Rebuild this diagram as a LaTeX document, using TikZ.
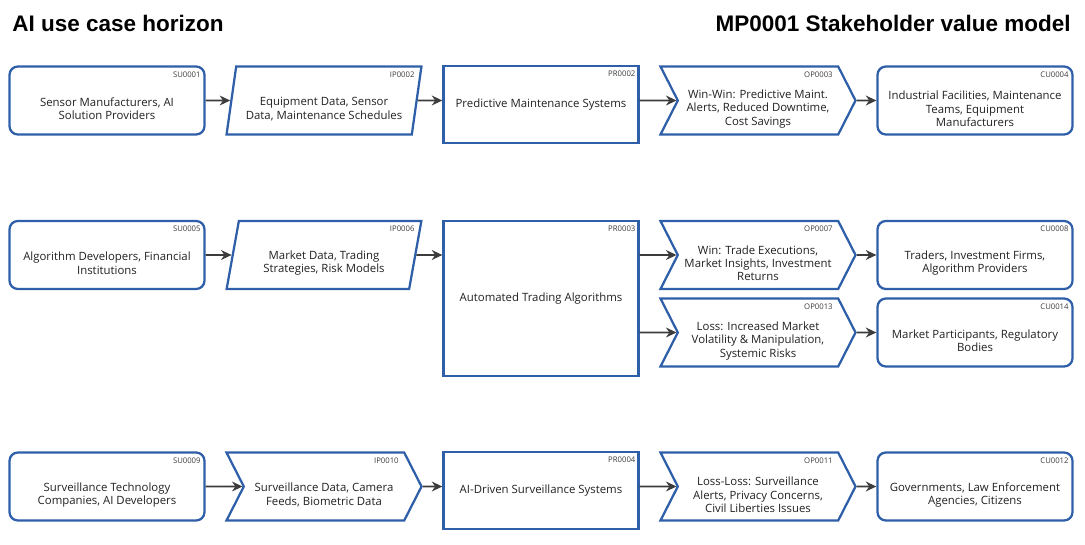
\documentclass[tikz,border=0pt]{standalone}
\usepackage{fontspec}
\setmainfont{Open Sans}
\newfontfamily\titlefont{Liberation Sans}
\usepackage{tikz}
\usetikzlibrary{arrows.meta,shapes.geometric,shapes.symbols,positioning}
\usepackage{xcolor}
\definecolor{svblue}{RGB}{46,95,168}
\definecolor{svdark}{RGB}{34,34,34}
\definecolor{svgray}{RGB}{60,60,60}
\newcommand{\dn}{\rule{0pt}{18pt}}
\tikzstyle{boxbase} = [draw=svblue, line width=1.6pt, fill=white, text=svdark, font=\fontsize{8.1}{9.4}\selectfont, align=center, minimum width=4.875cm, minimum height=1.7cm, inner sep=2pt]
\tikzstyle{supplier} = [boxbase, rectangle, rounded corners=6pt]
\tikzstyle{customer} = [boxbase, rectangle, rounded corners=6pt]
\tikzstyle{process} = [boxbase, rectangle, minimum height=1.925cm]
\tikzstyle{inputbox} = [boxbase, trapezium, trapezium left angle=79, trapezium right angle=101, trapezium stretches=true]
\tikzstyle{outbox} = [boxbase, signal, signal from=west, signal to=east, signal pointer angle=126]
\tikzstyle{idtag} = [anchor=north east, inner sep=0pt, font=\fontsize{5.5}{6}\selectfont, text=svgray]
\tikzstyle{arrow} = [line width=1.1pt, draw=svgray, -{Stealth[length=7.5pt,width=7pt]}]
\tikzstyle{title} = [font=\titlefont\bfseries\fontsize{16}{19}\selectfont, inner sep=0pt]

\begin{document}
\begin{tikzpicture}[x=0.025cm, y=-0.025cm]
\useasboundingbox (0,0) rectangle (1085,545);

% Titles
\node[title, anchor=base west] (ttl) at (12,32) {AI use case horizon};
\node[title, anchor=base east] (mp) at (1071,32) {MP0001 Stakeholder value model};

% Row 1: predictive maintenance
\node[supplier] (su1) at (107,100.5) {\dn Sensor Manufacturers, AI\\Solution Providers};
\node[inputbox] (ip2) at (324,100.5) {\dn Equipment Data, Sensor\\Data, Maintenance Schedules};
\node[process] (pr2) at (541,104.5) {Predictive Maintenance Systems};
\node[outbox] (op3) at (758,100.5) {\dn Win-Win: Predictive Maint.\\Alerts, Reduced Downtime,\\Cost Savings};
\node[customer] (cu4) at (975,100.5) {\dn Industrial Facilities, Maintenance\\Teams, Equipment\\Manufacturers};

% Row 2: trading
\node[supplier] (su5) at (107,255) {\dn Algorithm Developers, Financial\\Institutions};
\node[inputbox] (ip6) at (324,255) {\dn Market Data, Trading\\Strategies, Risk Models};
\node[process, minimum height=3.875cm] (pr3) at (541,298.5) {Automated Trading Algorithms};
\node[outbox] (op7) at (758,255) {\dn Win: Trade Executions,\\Market Insights, Investment\\Returns};
\node[customer] (cu8) at (975,255) {\dn Traders, Investment Firms,\\Algorithm Providers};
\node[outbox] (op13) at (758,332.5) {\dn Loss: Increased Market\\Volatility \& Manipulation,\\Systemic Risks};
\node[customer] (cu14) at (975,332.5) {\dn Market Participants, Regulatory\\Bodies};

% Row 3: surveillance
\node[supplier] (su9) at (107,486.5) {\dn Surveillance Technology\\Companies, AI Developers};
\node[outbox] (ip10) at (324,486.5) {\dn Surveillance Data, Camera\\Feeds, Biometric Data};
\node[process] (pr4) at (541,490.5) {AI-Driven Surveillance Systems};
\node[outbox] (op11) at (758,486.5) {\dn Loss-Loss: Surveillance\\Alerts, Privacy Concerns,\\Civil Liberties Issues};
\node[customer] (cu12) at (975,486.5) {\dn Governments, Law Enforcement\\Agencies, Citizens};

% IDs
\node[idtag] (su1id) at ([xshift=-0.12cm,yshift=-0.15cm]su1.north east) {SU0001};
\node[idtag] (ip2id) at ([xshift=-0.2cm,yshift=-0.15cm]ip2.top right corner) {IP0002};
\node[idtag] (pr2id) at ([xshift=-0.1cm,yshift=-0.15cm]pr2.north east) {PR0002};
\node[idtag] (op3id) at ([xshift=-0.15cm,yshift=-0.15cm]op3.north east) {OP0003};
\node[idtag] (cu4id) at ([xshift=-0.12cm,yshift=-0.15cm]cu4.north east) {CU0004};
\node[idtag] (su5id) at ([xshift=-0.12cm,yshift=-0.15cm]su5.north east) {SU0005};
\node[idtag] (ip6id) at ([xshift=-0.2cm,yshift=-0.15cm]ip6.top right corner) {IP0006};
\node[idtag] (pr3id) at ([xshift=-0.1cm,yshift=-0.15cm]pr3.north east) {PR0003};
\node[idtag] (op7id) at ([xshift=-0.15cm,yshift=-0.15cm]op7.north east) {OP0007};
\node[idtag] (cu8id) at ([xshift=-0.12cm,yshift=-0.15cm]cu8.north east) {CU0008};
\node[idtag] (op13id) at ([xshift=-0.15cm,yshift=-0.15cm]op13.north east) {OP0013};
\node[idtag] (cu14id) at ([xshift=-0.12cm,yshift=-0.15cm]cu14.north east) {CU0014};
\node[idtag] (su9id) at ([xshift=-0.12cm,yshift=-0.15cm]su9.north east) {SU0009};
\node[idtag] (ip10id) at ([xshift=-0.15cm,yshift=-0.15cm]ip10.north east) {IP0010};
\node[idtag] (pr4id) at ([xshift=-0.1cm,yshift=-0.15cm]pr4.north east) {PR0004};
\node[idtag] (op11id) at ([xshift=-0.15cm,yshift=-0.15cm]op11.north east) {OP0011};
\node[idtag] (cu12id) at ([xshift=-0.12cm,yshift=-0.15cm]cu12.north east) {CU0012};

% Arrows
\draw[arrow] (su1) -- (ip2);
\draw[arrow] (ip2) -- (ip2 -| pr2.west);
\draw[arrow] (pr2.east |- op3) -- (op3);
\draw[arrow] (op3) -- (cu4);

\draw[arrow] (su5) -- (ip6);
\draw[arrow] (ip6) -- (ip6 -| pr3.west);
\draw[arrow] (pr3.east |- op7) -- (op7);
\draw[arrow] (pr3.east |- op13) -- (op13);
\draw[arrow] (op7) -- (cu8);
\draw[arrow] (op13) -- (cu14);

\draw[arrow] (su9) -- (ip10);
\draw[arrow] (ip10) -- (ip10 -| pr4.west);
\draw[arrow] (pr4.east |- op11) -- (op11);
\draw[arrow] (op11) -- (cu12);
\end{tikzpicture}
\end{document}
